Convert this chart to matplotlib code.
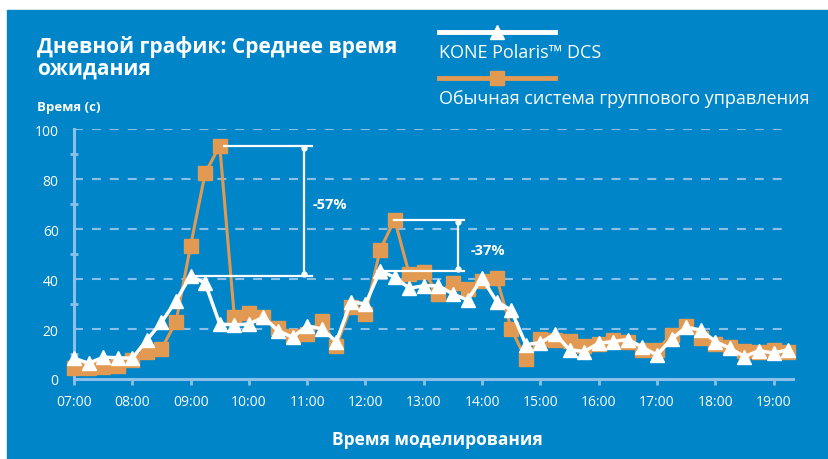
import matplotlib.pyplot as plt
from matplotlib.lines import Line2D
from matplotlib.patches import Rectangle

# 15-minute samples from 07:00 to 19:15
hours = [7 + i * 0.25 for i in range(50)]

kone_dcs = [8.3, 6.3, 8.7, 8.5, 8.3, 15.6, 22.7, 31.3, 41.3, 38.3,
            22.0, 21.6, 22.0, 24.7, 19.3, 16.7, 21.3, 20.0, 15.0, 30.9,
            30.0, 43.3, 40.7, 36.3, 37.3, 37.3, 34.0, 31.6, 40.3, 31.0,
            27.5, 13.8, 14.5, 18.0, 11.7, 11.0, 14.3, 15.0, 15.8, 12.7,
            9.6, 16.0, 20.7, 19.6, 15.0, 12.3, 9.0, 11.3, 10.4, 11.7]

conventional = [4.3, 4.3, 4.9, 5.3, 7.6, 10.7, 12.0, 22.9, 53.3, 82.4,
                93.3, 24.9, 26.3, 24.9, 20.4, 17.3, 18.0, 23.3, 13.3, 28.7,
                26.0, 51.7, 63.7, 42.0, 42.9, 34.0, 38.6, 36.0, 39.3, 40.3,
                20.0, 8.0, 16.2, 15.7, 15.1, 13.3, 14.0, 15.6, 15.0, 11.7,
                11.6, 17.7, 21.3, 16.4, 14.0, 13.0, 11.3, 10.9, 11.7, 10.9]

xtick_hours = list(range(7, 20))
xtick_labels = ['%02d:00' % h for h in xtick_hours]
yticks = [0, 20, 40, 60, 80, 100]

title = 'Дневной график: Среднее время\nожидания'
legend_labels = ['KONE Polaris™ DCS', 'Обычная система группового управления']

BLUE = '#0085C9'
LIGHT = '#8CC0E8'
ORANGE = '#E29A52'

plt.rcParams['font.family'] = ['Open Sans', 'DejaVu Sans']

fig = plt.figure(figsize=(8.29, 4.60), dpi=100)
fig.patch.set_facecolor('white')
fig.add_artist(Rectangle((7 / 829, 0), 1 - 7 / 829, 449 / 460,
                         transform=fig.transFigure, color=BLUE, zorder=0))

ax = fig.add_axes([74 / 829, 80 / 460, 719 / 829, 250 / 460])
ax.set_facecolor('none')
ax.set_xlim(7, 7 + 719 / 58.3)
ax.set_ylim(0, 100)

for y in yticks[1:]:
    ax.axhline(y, xmax=0.985, color=LIGHT, lw=1.5, ls=(0, (4.3, 4.3)), zorder=1)

ax.plot(hours, conventional, color=ORANGE, lw=2.2, marker='s', ms=9.5,
        mec=ORANGE, mfc=ORANGE, zorder=3, clip_on=False)
ax.plot(hours, kone_dcs, color='white', lw=2.5, marker='^', ms=10,
        mec='white', mfc='white', zorder=4, clip_on=False)

# peak comparison brackets
def bracket(x_top, x_low, x_end, x_vert, y_top, y_low, label, x_text, y_text):
    ax.plot([x_top, x_end], [y_top, y_top], color='white', lw=1.6, zorder=5)
    ax.plot([x_low, x_end], [y_low, y_low], color='white', lw=1.6, zorder=5)
    ax.plot([x_vert, x_vert], [y_top - 0.8, y_low + 0.8], color='white', lw=1.6,
            marker='o', ms=3.5, zorder=5)
    ax.text(x_text, y_text, label, color='white', fontsize=10.5,
            fontweight='bold', va='center', ha='left', zorder=6)

bracket(9.57, 8.99, 11.08, 10.945, max(conventional[8:12]), max(kone_dcs[7:11]),
        '-57%', 11.1, 70)
bracket(12.49, 12.2, 13.69, 13.59, max(conventional[20:24]), max(kone_dcs[20:23]),
        '-37%', 13.8, 51.5)

for side in ['top', 'right']:
    ax.spines[side].set_visible(False)
for side in ['left', 'bottom']:
    ax.spines[side].set_color(LIGHT)
    ax.spines[side].set_linewidth(2.2)

ax.set_xticks(xtick_hours)
ax.set_xticklabels(xtick_labels)
ax.set_yticks(yticks)
ax.set_yticks([10, 30, 50, 70, 90], minor=True)
ax.tick_params(axis='x', colors=LIGHT, length=4, width=2, labelcolor='white',
               labelsize=10, pad=7)
ax.tick_params(axis='y', which='major', length=0, labelcolor='white',
               labelsize=10, pad=11)
ax.tick_params(axis='y', which='minor', colors=LIGHT, length=6, width=2,
               direction='inout')

fig.text(37 / 829, 1 - 58 / 460, title, color='white', fontsize=15,
         fontweight='bold', va='center', ha='left', linespacing=1.05)
fig.text(37 / 829, 1 - 108 / 460, 'Время (с)', color='white',
         fontsize=9.5, fontweight='bold', va='center', ha='left')
fig.text(437 / 829, 1 - 440 / 460, 'Время моделирования', color='white',
         fontsize=12.5, fontweight='bold', va='center', ha='center')

# legend drawn by hand: sample line above each label
leg_styles = [('white', '^', 33), (ORANGE, 's', 79)]
for (color, marker, y_px), label in zip(leg_styles, legend_labels):
    yf = 1 - y_px / 460
    fig.add_artist(Line2D([439 / 829, 555 / 829], [yf, yf], color=color, lw=3.5,
                          transform=fig.transFigure))
    fig.add_artist(Line2D([497 / 829], [yf], color=color, marker=marker, ms=10,
                          transform=fig.transFigure))
    fig.text(439 / 829, yf - 20 / 460, label, color='white', fontsize=13,
             va='center', ha='left')

fig.savefig('out.png', dpi=100)
